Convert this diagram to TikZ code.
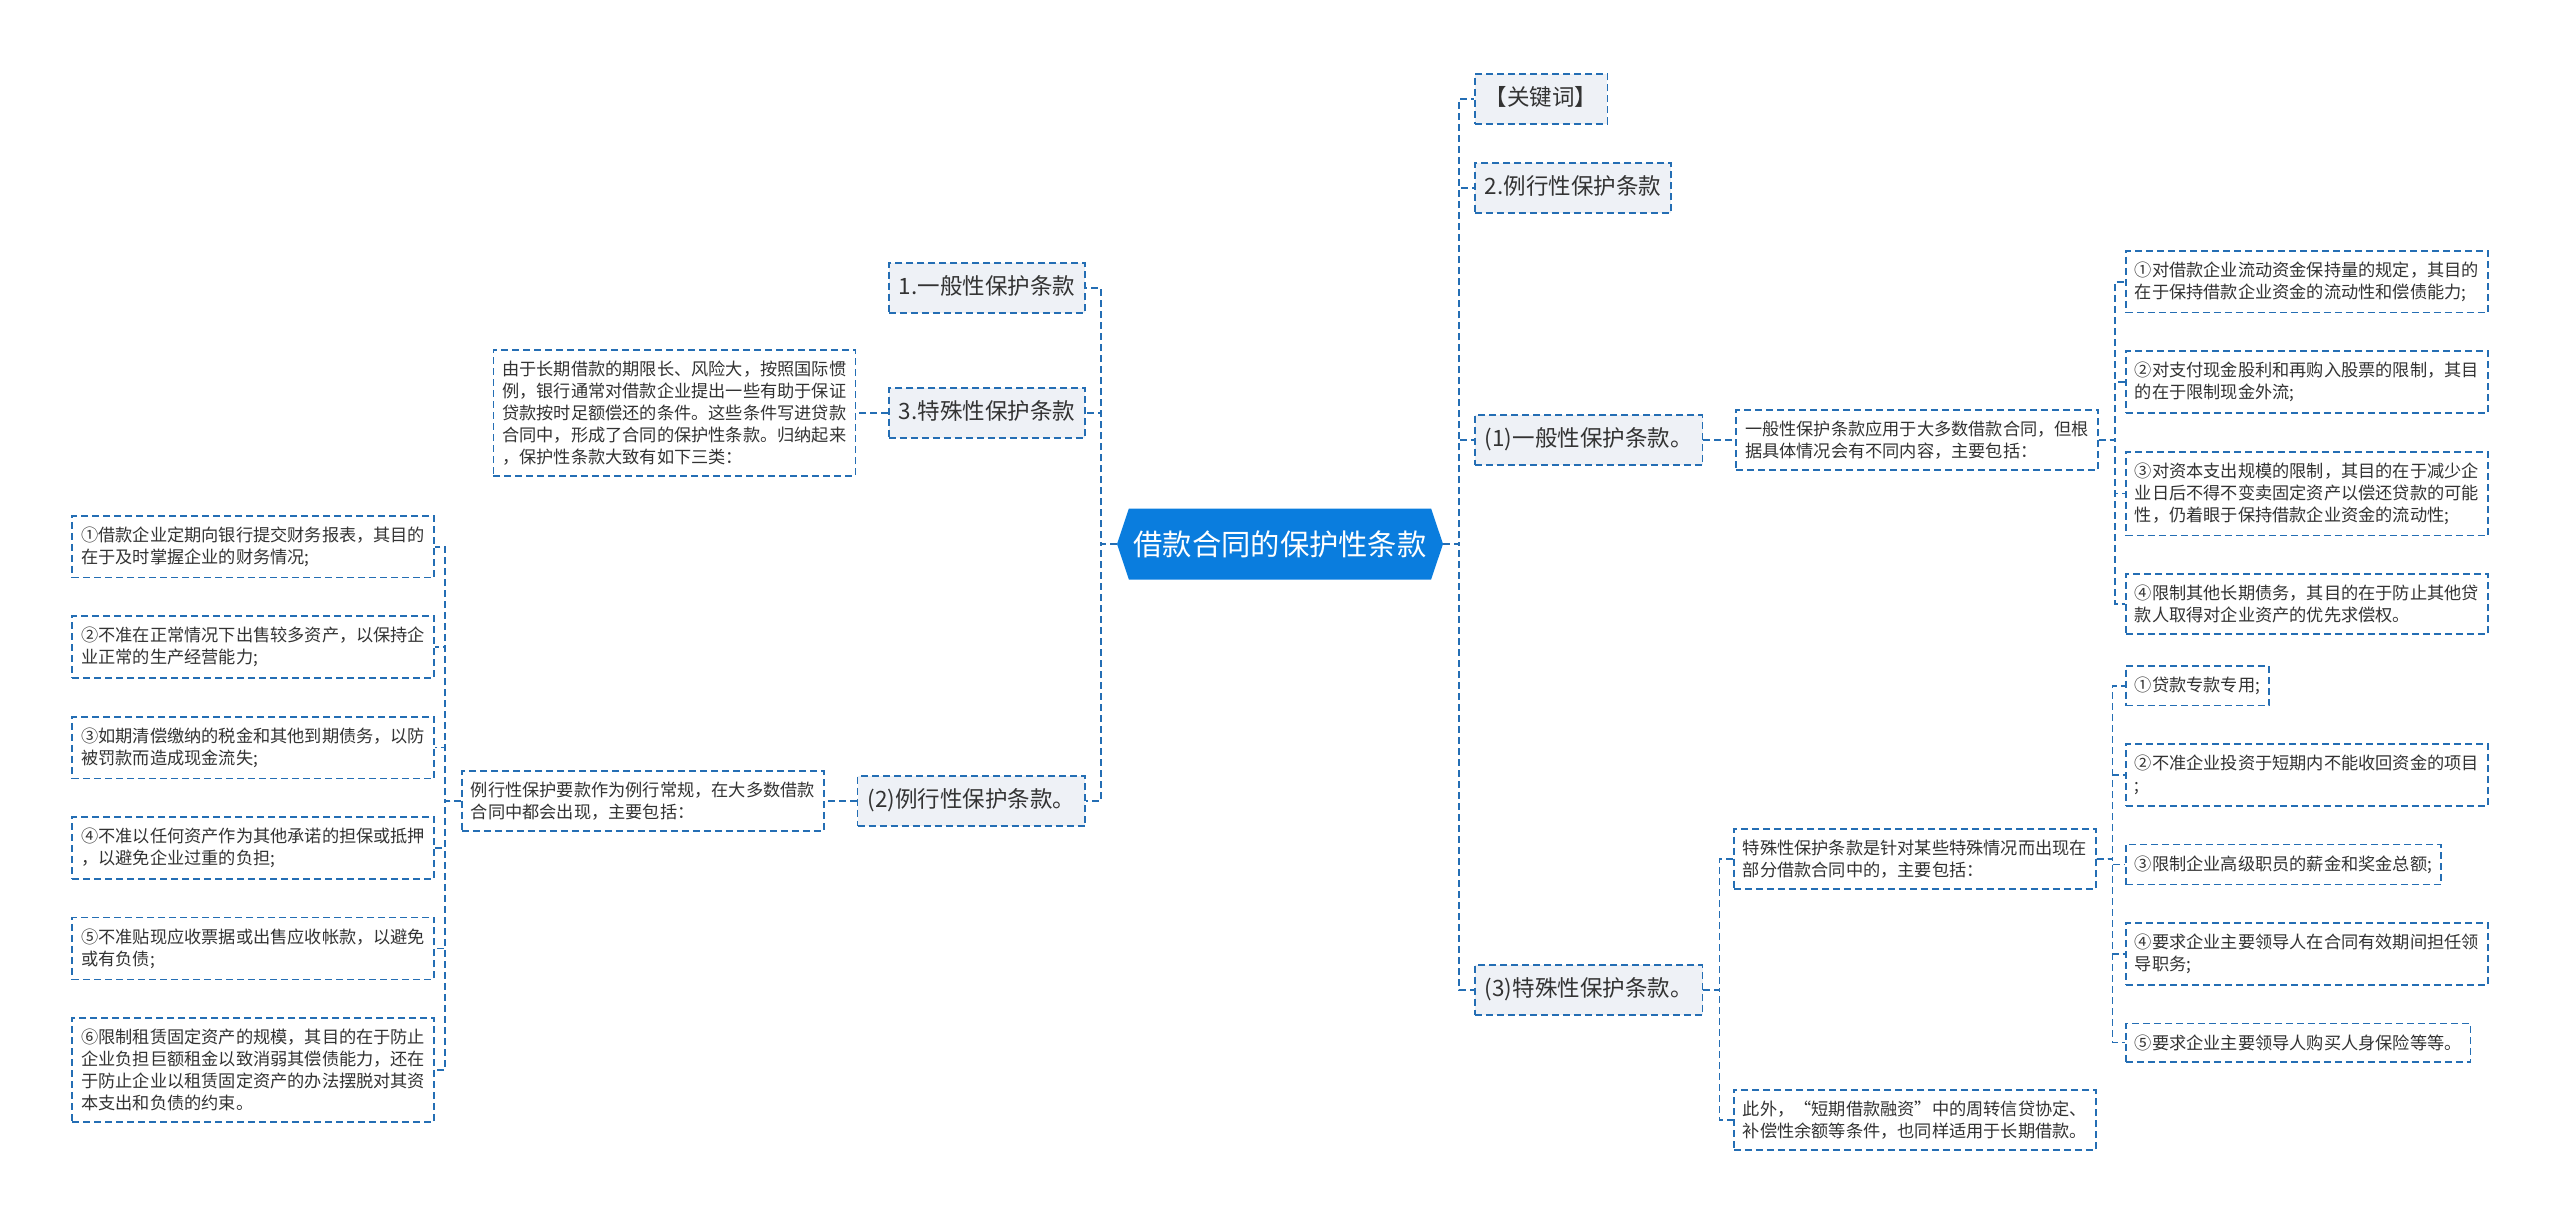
\documentclass[tikz,border=0pt]{standalone}
\usepackage{fontspec}
\setmainfont{Noto Sans CJK SC}
\usetikzlibrary{positioning, shapes.symbols}
\definecolor{lineblue}{RGB}{36,110,180}
\definecolor{hubblue}{RGB}{10,125,222}
\definecolor{titlegray}{RGB}{238,241,246}
\definecolor{textgray}{RGB}{51,51,51}
\tikzset{
  x=1pt, y=-1pt,
  box/.style={draw=lineblue, line width=1.6pt, dash pattern=on 7pt off 4pt, text=textgray},
  hub/.style={signal, signal to=west and east, signal pointer angle=143, fill=hubblue, text=white,
    font=\fontsize{29.3pt}{34pt}\selectfont, minimum width=326pt, minimum height=71pt, inner sep=0pt},
  title/.style={box, fill=titlegray, font=\fontsize{22.5pt}{27pt}\selectfont,
    text height=18pt, text depth=5pt, inner xsep=10pt, inner ysep=13.5pt},
  leaf/.style={box, fill=white, font=\fontsize{17.2pt}{22pt}\selectfont, align=left,
    inner xsep=9pt, inner ysep=11pt},
  link/.style={draw=lineblue, line width=1.6pt, dash pattern=on 7pt off 4pt},
  toleft/.style={to path={-- ++(-16,0) |- (\tikztotarget)}},
  toright/.style={to path={-- ++(16,0) |- (\tikztotarget)}},
}

\begin{document}
\begin{tikzpicture}
        \useasboundingbox (0,0) rectangle (2560,1225);

        % centre
        \node[hub] (root) at (1280,544) {借款合同的保护性条款};

        % left branch
        \node[title, anchor=east] (lt1) at (1086,288) {1.一般性保护条款};
        \node[title, anchor=east] (lt3) at (1086,413) {3.特殊性保护条款};
        \node[title, anchor=east] (lt2) at (1086,801) {(2)例行性保护条款。};
        \node[leaf, left=32pt of lt3] (lx3) {由于长期借款的期限长、风险大，按照国际惯\\例，银行通常对借款企业提出一些有助于保证\\贷款按时足额偿还的条件。这些条件写进贷款\\合同中，形成了合同的保护性条款。归纳起来\\，保护性条款大致有如下三类：};
        \node[leaf, left=32pt of lt2] (lx2) {例行性保护要款作为例行常规，在大多数借款\\合同中都会出现，主要包括：};
        \node[leaf, anchor=north east] (lc1) at (435,515) {①借款企业定期向银行提交财务报表，其目的\\在于及时掌握企业的财务情况;};
        \node[leaf, below=37pt of lc1.south east, anchor=north east] (lc2) {②不准在正常情况下出售较多资产，以保持企\\业正常的生产经营能力;};
        \node[leaf, below=37pt of lc2.south east, anchor=north east] (lc3) {③如期清偿缴纳的税金和其他到期债务，以防\\被罚款而造成现金流失;};
        \node[leaf, below=37pt of lc3.south east, anchor=north east] (lc4) {④不准以任何资产作为其他承诺的担保或抵押\\，以避免企业过重的负担;};
        \node[leaf, below=37pt of lc4.south east, anchor=north east] (lc5) {⑤不准贴现应收票据或出售应收帐款，以避免\\或有负债;};
        \node[leaf, below=37pt of lc5.south east, anchor=north east] (lc6) {⑥限制租赁固定资产的规模，其目的在于防止\\企业负担巨额租金以致消弱其偿债能力，还在\\于防止企业以租赁固定资产的办法摆脱对其资\\本支出和负债的约束。};

        % right branch
        \node[title, anchor=west] (rt0) at (1474,99) {【关键词】};
        \node[title, anchor=west] (rt2) at (1474,188) {2.例行性保护条款};
        \node[title, anchor=west] (rt1) at (1474,440) {(1)一般性保护条款。};
        \node[title, anchor=west] (rt3) at (1474,990) {(3)特殊性保护条款。};
        \node[leaf, right=32pt of rt1] (rx1) {一般性保护条款应用于大多数借款合同，但根\\据具体情况会有不同内容，主要包括：};
        \node[leaf, anchor=north west] (rc1) at (2125,250) {①对借款企业流动资金保持量的规定，其目的\\在于保持借款企业资金的流动性和偿债能力;};
        \node[leaf, below=37pt of rc1.south west, anchor=north west] (rc2) {②对支付现金股利和再购入股票的限制，其目\\的在于限制现金外流;};
        \node[leaf, below=37pt of rc2.south west, anchor=north west] (rc3) {③对资本支出规模的限制，其目的在于减少企\\业日后不得不变卖固定资产以偿还贷款的可能\\性，仍着眼于保持借款企业资金的流动性;};
        \node[leaf, below=37pt of rc3.south west, anchor=north west] (rc4) {④限制其他长期债务，其目的在于防止其他贷\\款人取得对企业资产的优先求偿权。};
        \node[leaf, anchor=west] (rx3a) at (1733,859) {特殊性保护条款是针对某些特殊情况而出现在\\部分借款合同中的，主要包括：};
        \node[leaf, anchor=west] (rx3b) at (1733,1120) {此外，“短期借款融资”中的周转信贷协定、\\补偿性余额等条件，也同样适用于长期借款。};
        \node[leaf, anchor=north west] (rd1) at (2125,665) {①贷款专款专用;};
        \node[leaf, below=37pt of rd1.south west, anchor=north west] (rd2) {②不准企业投资于短期内不能收回资金的项目\\;};
        \node[leaf, below=37pt of rd2.south west, anchor=north west] (rd3) {③限制企业高级职员的薪金和奖金总额;};
        \node[leaf, below=37pt of rd3.south west, anchor=north west] (rd4) {④要求企业主要领导人在合同有效期间担任领\\导职务;};
        \node[leaf, below=37pt of rd4.south west, anchor=north west] (rd5) {⑤要求企业主要领导人购买人身保险等等。};

        % connectors
        \draw[link] (root.west) edge[toleft] (lt1.east)
                                edge[toleft] (lt3.east)
                                edge[toleft] (lt2.east);
        \draw[link] (lt3.west) -- (lx3.east);
        \draw[link] (lt2.west) -- (lx2.east);
        \draw[link] (lx2.west) edge[toleft] (lc1.east)
                               edge[toleft] (lc2.east)
                               edge[toleft] (lc3.east)
                               edge[toleft] (lc4.east)
                               edge[toleft] (lc5.east)
                               edge[toleft] (lc6.east);
        \draw[link] (root.east) edge[toright] (rt0.west)
                                edge[toright] (rt2.west)
                                edge[toright] (rt1.west)
                                edge[toright] (rt3.west);
        \draw[link] (rt1.east) -- (rx1.west);
        \draw[link] (rx1.east) edge[toright] (rc1.west)
                               edge[toright] (rc2.west)
                               edge[toright] (rc3.west)
                               edge[toright] (rc4.west);
        \draw[link] (rt3.east) edge[toright] (rx3a.west)
                               edge[toright] (rx3b.west);
        \draw[link] (rx3a.east) edge[toright] (rd1.west)
                                edge[toright] (rd2.west)
                                edge[toright] (rd3.west)
                                edge[toright] (rd4.west)
                                edge[toright] (rd5.west);
      \end{tikzpicture}
\end{document}
